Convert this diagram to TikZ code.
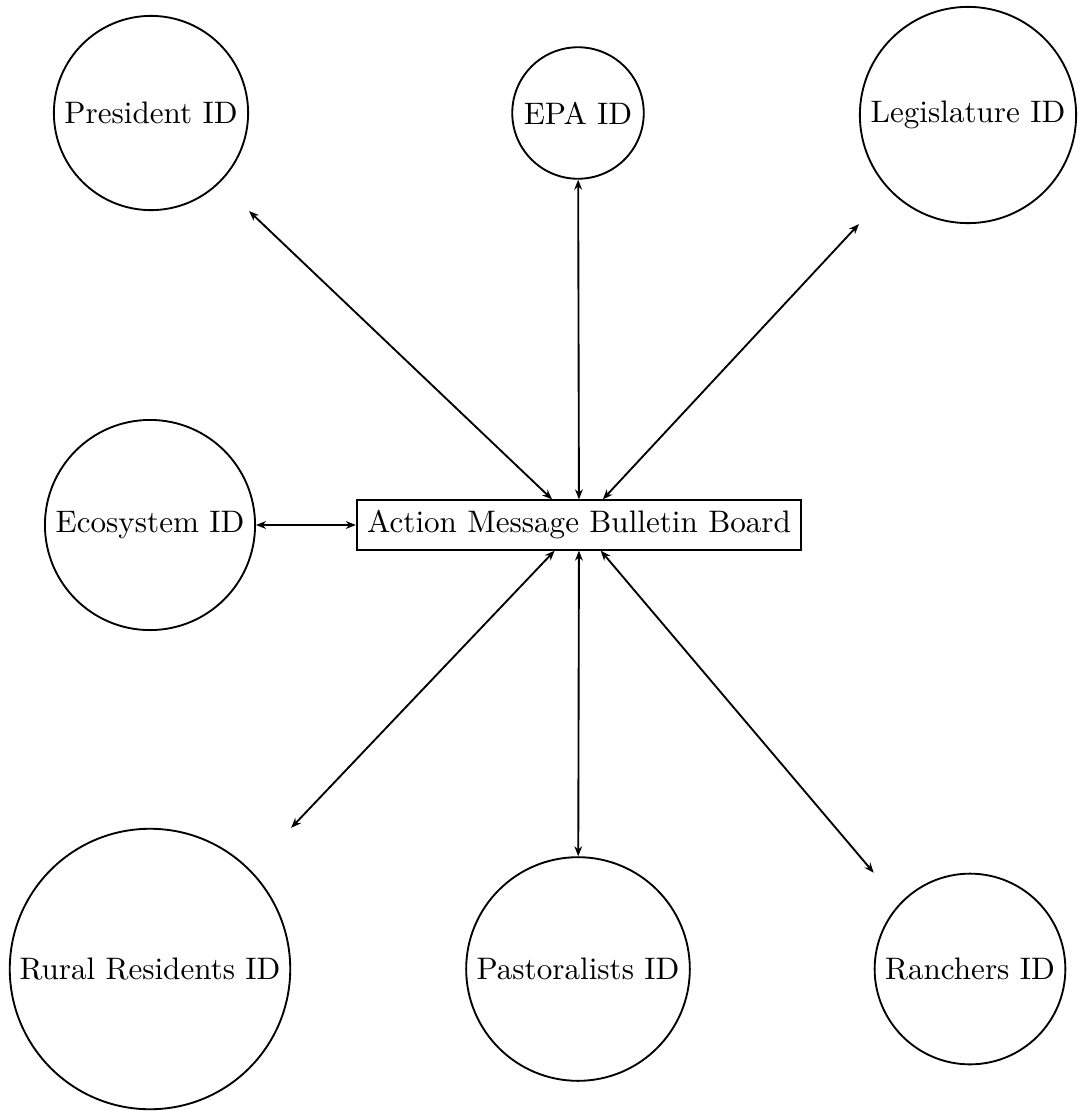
\documentclass[tikz,border=0pt]{standalone}
\usetikzlibrary{calc,arrows.meta}
\begin{document}
\begin{tikzpicture}[x=0.32154pt,y=-0.32154pt,line width=0.6pt,
  agent/.style={draw,circle,inner sep=2.8pt,font=\normalsize},
  board/.style={draw,rectangle,font=\normalsize},
  link/.style={{Stealth[length=3.2pt,width=2.5pt,inset=1pt]}-{Stealth[length=3.2pt,width=2.5pt,inset=1pt]}}]
\useasboundingbox (0,0) rectangle (1082,1111);
\node[board] (box) at (579,525) {Action Message Bulletin Board};
\node[agent] (pres) at (151,113) {President ID};
\node[agent] (epa) at (578,113) {EPA ID};
\node[agent] (leg) at (968,115) {Legislature ID};
\node[agent] (eco) at (150,525) {Ecosystem ID};
\node[agent] (rural) at (150,969) {Rural Residents ID};
\node[agent] (past) at (578,969) {Pastoralists ID};
\node[agent] (ranch) at (970,969) {Ranchers ID};
\coordinate (presc) at (pres.east |- pres.south);
\coordinate (legc) at (leg.west |- leg.south);
\coordinate (ruralc) at (rural.east |- rural.north);
\coordinate (ranchc) at (ranch.west |- ranch.north);
\draw[link] (box) -- (presc);
\draw[link] (box) -- (epa);
\draw[link] (box) -- (legc);
\draw[link] (box) -- (eco);
\draw[link] (box) -- (ruralc);
\draw[link] (box) -- (past);
\draw[link] (box) -- (ranchc);
\end{tikzpicture}
\end{document}
